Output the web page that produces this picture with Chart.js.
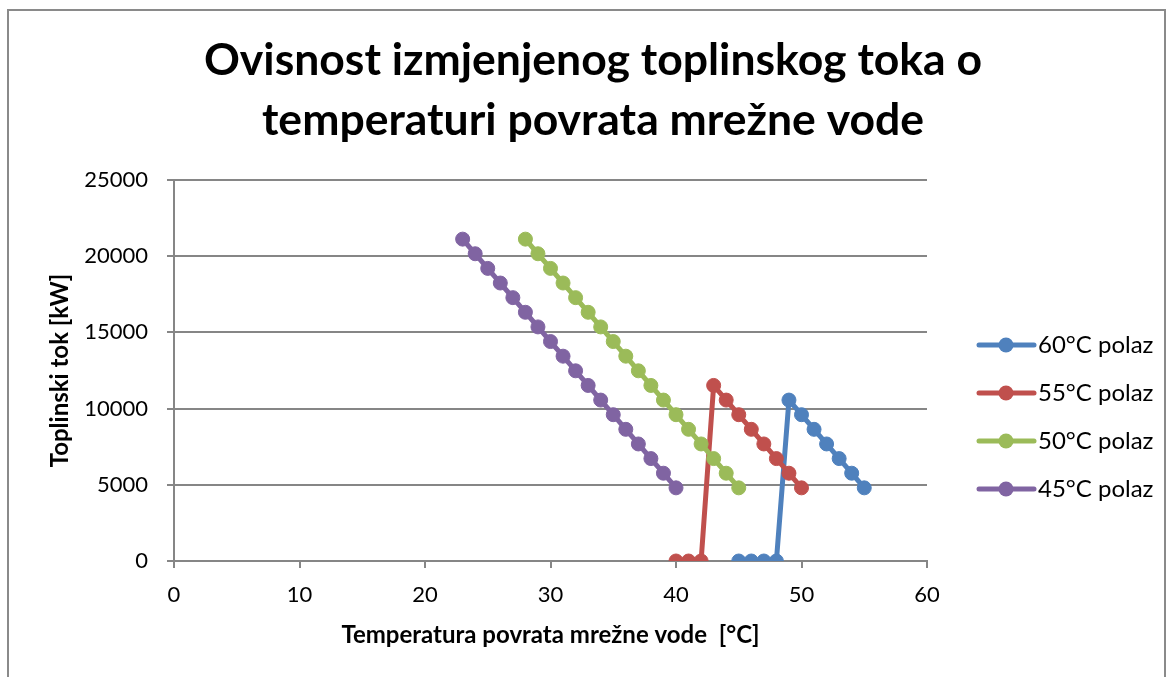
<!DOCTYPE html>
<html>
<head>
<meta charset="utf-8">
<script src="https://cdn.jsdelivr.net/npm/chart.js@4.4.1/dist/chart.umd.min.js"></script>
<style>
  html, body { margin: 0; padding: 0; background: #fff; overflow: hidden; }
  #wrap { position: relative; width: 1168px; height: 677px; }
  #frame {
    position: absolute; left: 7px; top: 9px; width: 1159px; height: 720px;
    box-sizing: border-box; border: 2px solid #8a8a8a; pointer-events: none;
  }
  canvas { position: absolute; left: 0; top: 0; }
</style>
</head>
<body>
<div id="wrap">
  <canvas id="chart" width="1168" height="677"></canvas>
  <div id="frame"></div>
</div>
<script>
// return temperature [°C] per series
const temps60 = [45, 46, 47, 48, 49, 50, 51, 52, 53, 54, 55];
const temps55 = [40, 41, 42, 43, 44, 45, 46, 47, 48, 49, 50];
const temps50 = [28, 29, 30, 31, 32, 33, 34, 35, 36, 37, 38, 39, 40, 41, 42, 43, 44, 45];
const temps45 = [23, 24, 25, 26, 27, 28, 29, 30, 31, 32, 33, 34, 35, 36, 37, 38, 39, 40];

// exchanged heat flow [kW]
const heat60 = [0, 0, 0, 0, 10560, 9600, 8640, 7680, 6720, 5760, 4800];
const heat55 = [0, 0, 0, 11520, 10560, 9600, 8640, 7680, 6720, 5760, 4800];
const heat50 = [21120, 20160, 19200, 18240, 17280, 16320, 15360, 14400, 13440, 12480, 11520, 10560, 9600, 8640, 7680, 6720, 5760, 4800];
const heat45 = [21120, 20160, 19200, 18240, 17280, 16320, 15360, 14400, 13440, 12480, 11520, 10560, 9600, 8640, 7680, 6720, 5760, 4800];

const seriesNames = ["60°C polaz", "55°C polaz", "50°C polaz", "45°C polaz"];
const seriesColors = ["#4F81BD", "#C0504D", "#9BBB59", "#8064A2"];

const titleLines = ["Ovisnost izmjenjenog toplinskog toka o", "temperaturi povrata mrežne vode"];
const xTitle = "Temperatura povrata mrežne vode  [°C]";
const yTitle = "Toplinski tok [kW]";

const FONT = "Lato";
const GRID = "#868686";

function points(xs, ys) {
  return xs.map((x, i) => ({ x: x, y: ys[i] }));
}

const allTemps = [temps60, temps55, temps50, temps45];
const allHeat = [heat60, heat55, heat50, heat45];

const datasets = seriesNames.map((name, i) => ({
  label: name,
  data: points(allTemps[i], allHeat[i]),
  showLine: true,
  borderColor: seriesColors[i],
  backgroundColor: seriesColors[i],
  borderWidth: 5,
  pointRadius: 7,
  pointBorderWidth: 1,
  pointBorderColor: seriesColors[i],
  pointBackgroundColor: seriesColors[i],
  // later series paint over earlier ones
  order: seriesNames.length - 1 - i,
}));

// legend as a layout box on the right, so the title stays centred on the whole canvas
const sideLegend = {
  id: "sideLegend",
  beforeInit(chart) {
    const box = {
      position: "right",
      weight: 0,
      fullSize: false,
      options: {},
      left: 0, top: 0, right: 0, bottom: 0, width: 0, height: 0,
      isHorizontal() { return false; },
      update(maxWidth, maxHeight) {
        this.width = 239;
        this.height = maxHeight;
      },
      draw() {
        const ctx = chart.ctx;
        ctx.save();
        chart.data.datasets.forEach((ds, i) => {
          const y = this.top + 165 + i * 48;
          const x0 = this.left + 52;
          ctx.strokeStyle = ds.borderColor;
          ctx.lineWidth = 5;
          ctx.lineCap = "round";
          ctx.beginPath();
          ctx.moveTo(x0, y);
          ctx.lineTo(x0 + 55, y);
          ctx.stroke();
          ctx.fillStyle = ds.borderColor;
          ctx.beginPath();
          ctx.arc(x0 + 27, y, 7.5, 0, Math.PI * 2);
          ctx.fill();
          ctx.fillStyle = "#000";
          ctx.font = "24px " + FONT;
          ctx.textAlign = "left";
          ctx.textBaseline = "middle";
          ctx.fillText(ds.label, x0 + 59, y);
        });
        ctx.restore();
      },
    };
    Chart.layouts.addBox(chart, box);
  },
};

function drawChart() {
  const ctx = document.getElementById("chart").getContext("2d");
  new Chart(ctx, {
    type: "scatter",
    data: { datasets: datasets },
    plugins: [sideLegend],
    options: {
      responsive: false,
      animation: false,
      devicePixelRatio: 1,
      layout: { padding: { left: 20, top: 10, right: 2, bottom: 0 } },
      plugins: {
        legend: { display: false },
        tooltip: { enabled: false },
        title: {
          display: true,
          text: titleLines,
          color: "#000",
          font: { family: FONT, size: 44.5, weight: "bold", lineHeight: 60 / 44.5 },
          padding: { top: 21, bottom: 29 },
        },
      },
      scales: {
        x: {
          type: "linear",
          position: "bottom",
          min: 0,
          max: 60,
          afterFit(scale) { scale.height = 116; },
          ticks: {
            stepSize: 10,
            color: "#000",
            padding: 14,
            font: { family: FONT, size: 22 },
            callback: (v) => String(v),
          },
          grid: {
            drawOnChartArea: false,
            drawTicks: true,
            tickLength: 7,
            color: GRID,
            lineWidth: 2,
          },
          border: { display: true, color: GRID, width: 2 },
          title: {
            display: true,
            text: xTitle,
            color: "#000",
            font: { family: FONT, size: 24, weight: "bold" },
            padding: { top: 0, bottom: 27 },
          },
        },
        y: {
          min: 0,
          max: 25000,
          afterFit(scale) { scale.width = 154; },
          ticks: {
            stepSize: 5000,
            color: "#000",
            padding: 19,
            font: { family: FONT, size: 22 },
            callback: (v) => String(v),
          },
          grid: {
            drawTicks: true,
            tickLength: 7,
            color: GRID,
            lineWidth: 2,
          },
          border: { display: true, color: GRID, width: 2 },
          title: {
            display: true,
            text: yTitle,
            color: "#000",
            font: { family: FONT, size: 24, weight: "bold" },
            padding: { top: 26, bottom: 0 },
          },
        },
      },
    },
  });
}

Promise.all([
  document.fonts.load("bold 44.5px " + FONT),
  document.fonts.load("22px " + FONT),
]).then(drawChart, drawChart);
</script>
</body>
</html>
